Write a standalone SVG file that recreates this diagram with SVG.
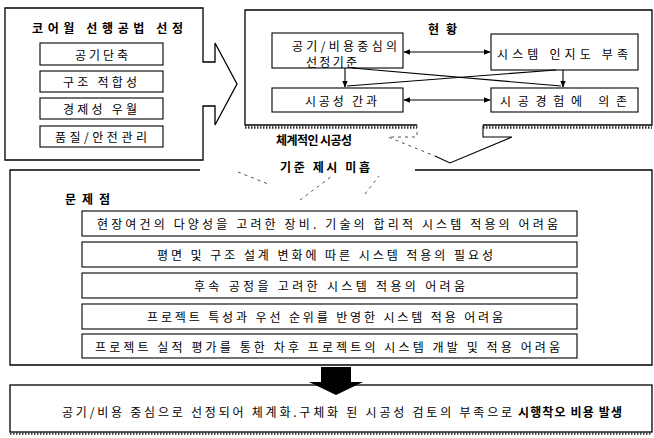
<svg xmlns="http://www.w3.org/2000/svg" width="654" height="438" viewBox="0 0 654 438">
<defs>
<style>
.frame{fill:none;stroke:#000;stroke-width:1.3}
.box{fill:#fff;stroke:#000;stroke-width:1.1}
.t{font-family:"Noto Sans CJK KR","Noto Sans",sans-serif;font-size:12px;fill:#000;dominant-baseline:central}
.b{font-weight:bold}
.con{fill:none;stroke:#000;stroke-width:1.1}
.faint{fill:none;stroke:#555;stroke-width:1;stroke-dasharray:3 4}
.shade{fill:none;stroke:#333;stroke-width:2.5;stroke-dasharray:1.5 1.5}
</style>
<marker id="ah" viewBox="0 0 10 10" refX="9" refY="5" markerWidth="6" markerHeight="6" orient="auto-start-reverse">
<path d="M0,1 L10,5 L0,9 Z" fill="#000"/>
</marker>
</defs>
<rect width="654" height="438" fill="#fff"/>

<!-- Left group: core wall method selection -->
<g id="core-wall">
<path class="frame" d="M5,8 H203 V62 H215 V43 L237,84 L215,125 V106 H203 V160 H5 Z"/>
<text class="t b" x="32" y="27" font-size="14" textLength="151">코어월 선행공법 선정</text>
<g id="cw1"><rect class="box" x="40" y="43" width="123" height="22"/><text class="t" x="75" y="54" textLength="53">공기단축</text></g>
<g id="cw2"><rect class="box" x="40" y="71" width="123" height="21"/><text class="t" x="63" y="81.5" textLength="74">구조 적합성</text></g>
<g id="cw3"><rect class="box" x="40" y="98" width="123" height="21"/><text class="t" x="63" y="108.5" textLength="74">경제성 우월</text></g>
<g id="cw4"><rect class="box" x="40" y="126" width="123" height="21"/><text class="t" x="55" y="136.5" textLength="92">품질/안전관리</text></g>
</g>

<!-- Current status group -->
<g id="status">
<path class="frame" d="M483,125 H652 V10 H245 V125 H417"/>
<line class="shade" x1="245" y1="127.5" x2="417" y2="127.5"/>
<line class="shade" x1="483" y1="127.5" x2="652" y2="127.5"/>
<text class="t b" x="428" y="28" font-size="13" textLength="29">현황</text>
<g id="st-a"><rect class="box" x="272" y="33" width="131" height="35"/>
<text class="t" x="292" y="45" textLength="105">공기/비용중심의</text>
<text class="t" x="306" y="61" textLength="51">선정기준</text></g>
<g id="st-b"><rect class="box" x="491" y="34" width="147" height="36"/><text class="t" x="497" y="53" textLength="131">시스템 인지도 부족</text></g>
<g id="st-c"><rect class="box" x="272" y="88" width="131" height="24"/><text class="t" x="305" y="100" textLength="72">시공성 간과</text></g>
<g id="st-d"><rect class="box" x="491" y="88" width="147" height="24"/><text class="t" x="500" y="100" textLength="127">시공경험에 의존</text></g>
</g>

<!-- Connectors -->
<g id="connectors">
<line class="con" x1="404" y1="52" x2="490" y2="52" marker-start="url(#ah)" marker-end="url(#ah)"/>
<line class="con" x1="404" y1="100" x2="490" y2="100" marker-start="url(#ah)" marker-end="url(#ah)"/>
<line class="con" x1="345" y1="68" x2="345" y2="87" marker-end="url(#ah)"/>
<line class="con" x1="563" y1="70" x2="563" y2="87" marker-end="url(#ah)"/>
<line class="con" x1="352" y1="68" x2="561" y2="86"/>
<line class="con" x1="556" y1="70" x2="347" y2="86"/>
<!-- open down arrow from status to problems -->
<path class="con" d="M483,125 V137 H512 L450,163 L435,156"/>
<path class="faint" d="M417,125 V137 H388 L435,156"/>
<path class="faint" d="M300,200 L332,176 M365,194 L379,176 M238,172 L268,184"/>
</g>

<g id="gap-label">
<text class="t b" x="276" y="139" font-size="9.5" textLength="76">체계적인 시공성</text>
<text class="t b" x="280" y="166" font-size="9.5" textLength="90">기준 제시 미흡</text>
</g>

<!-- Problems group -->
<g id="problems">
<path class="frame" d="M200,170 H10 V365 H652 V170 H415"/>
<text class="t b" x="65" y="198" textLength="45">문제점</text>
<g id="p1"><rect class="box" x="82" y="211" width="495" height="25"/><text class="t" x="97" y="223.5" textLength="461">현장여건의 다양성을 고려한 장비. 기술의 합리적 시스템 적용의 어려움</text></g>
<g id="p2"><rect class="box" x="82" y="242" width="495" height="25"/><text class="t" x="157" y="254.5" textLength="336">평면 및 구조 설계 변화에 따른 시스템 적용의 필요성</text></g>
<g id="p3"><rect class="box" x="82" y="273" width="495" height="25"/><text class="t" x="194" y="285.5" textLength="271">후속 공정을 고려한 시스템 적용의 어려움</text></g>
<g id="p4"><rect class="box" x="82" y="304" width="495" height="25"/><text class="t" x="147" y="316.5" textLength="356">프로젝트 특성과 우선 순위를 반영한 시스템 적용 어려움</text></g>
<g id="p5"><rect class="box" x="82" y="334" width="495" height="24"/><text class="t" x="95" y="346" textLength="465">프로젝트 실적 평가를 통한 차후 프로젝트의 시스템 개발 및 적용 어려움</text></g>
</g>

<!-- Result group -->
<g id="result">
<rect class="frame" x="10" y="385" width="642" height="47"/>
<line class="shade" x1="10" y1="433.5" x2="652" y2="433.5"/>
<text class="t" x="62" y="411" textLength="450">공기/비용 중심으로 선정되어 체계화.구체화 된 시공성 검토의 부족으로</text>
<text class="t b" x="518" y="411" textLength="104">시행착오 비용 발생</text>
</g>

<g id="down-arrow">
<path d="M321,367 H351 V382 H363 L336,395 L309,382 H321 Z" fill="#000"/>
</g>
</svg>
